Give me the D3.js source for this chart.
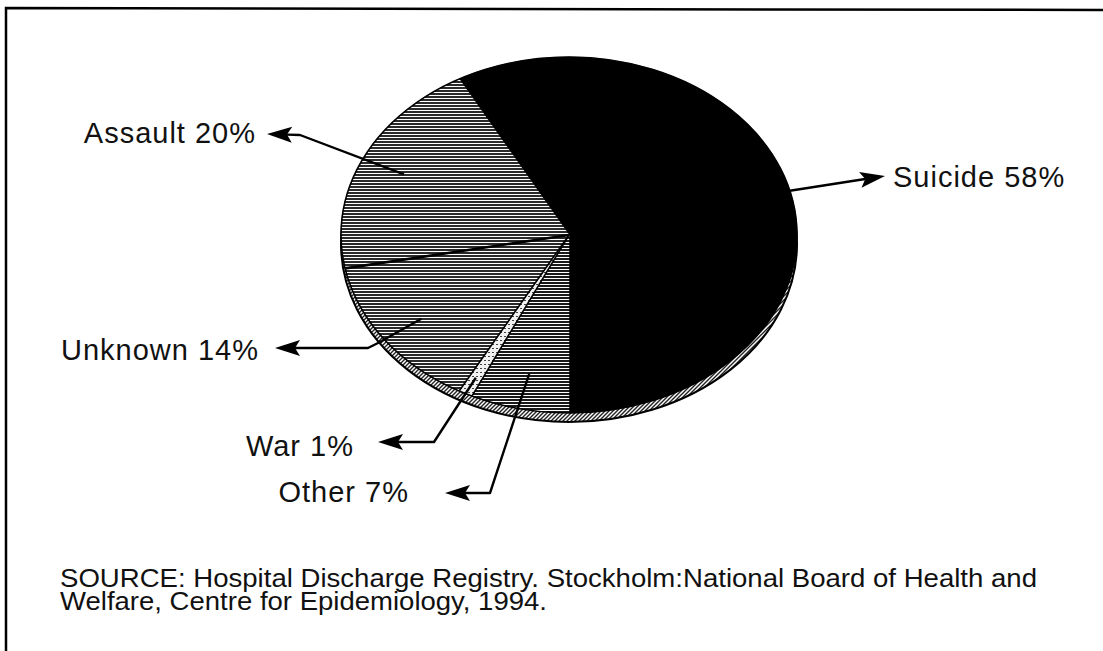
<!DOCTYPE html>
<html><head><meta charset="utf-8">
<script src="https://cdn.jsdelivr.net/npm/d3@7"></script>
<style>
html,body{margin:0;padding:0;background:#fff;}
svg{display:block;}
text{font-family:"Liberation Sans",Arial,Helvetica,sans-serif;fill:#111;}
</style></head>
<body>
<svg id="chart" width="1103" height="651"></svg>
<script>
// ---- data ----
const categories = ["Suicide", "Other", "War", "Unknown", "Assault"];
const values = [58, 7, 1, 14, 20];
const labels = ["Suicide 58%", "Other 7%", "War 1%", "Unknown 14%", "Assault 20%"];
const sourceLines = [
  "SOURCE: Hospital Discharge Registry. Stockholm:National Board of Health and",
  "Welfare, Centre for Epidemiology, 1994."
];

// ---- layout ----
const W = 1103, H = 651;
const cx = 569, cy = 235, rx = 228, ry = 178, depth = 9;
const svg = d3.select("#chart");
const defs = svg.append("defs");

function stripes(id, h, dark, col) {
  const p = defs.append("pattern").attr("id", id).attr("patternUnits", "userSpaceOnUse")
    .attr("width", 4).attr("height", h);
  p.append("rect").attr("width", 4).attr("height", h).attr("fill", "#fff");
  p.append("rect").attr("width", 4).attr("height", dark).attr("fill", col);
}
stripes("stripeA", 3, 2, "#2a2a2a");
stripes("stripeB", 3, 2, "#1a1a1a");

const pW = defs.append("pattern").attr("id", "warfill").attr("patternUnits", "userSpaceOnUse")
  .attr("width", 4).attr("height", 4);
pW.append("rect").attr("width", 4).attr("height", 4).attr("fill", "#f2f2f2");
pW.append("rect").attr("width", 2).attr("height", 1).attr("fill", "#444");

const pS = defs.append("pattern").attr("id", "side").attr("patternUnits", "userSpaceOnUse")
  .attr("width", 4).attr("height", 4);
pS.append("rect").attr("width", 4).attr("height", 4).attr("fill", "#fff");
pS.append("path").attr("d", "M0,4 L4,0 M-1,1 L1,-1 M3,5 L5,3").attr("stroke", "#222").attr("stroke-width", 1.4);

const fills = {Suicide: "#000", Other: "url(#stripeB)", War: "url(#warfill)", Unknown: "url(#stripeA)", Assault: "url(#stripeA)"};
// width of the radial edge at the start of each slice
const edgeW = {Suicide: 0, Other: 0, War: 1.6, Unknown: 1.6, Assault: 2.6};

// frame
svg.append("path").attr("d", `M6,${H} L6,8 L${W},10`).attr("fill", "none")
  .attr("stroke", "#000").attr("stroke-width", 2.5);

// pie angles
const start = -0.08 * 2 * Math.PI;
const pie = d3.pie().sort(null).value(d => d.v).startAngle(start).endAngle(start + 2 * Math.PI);
const arcs = pie(categories.map((c, i) => ({c, v: values[i], label: labels[i]})));

const pt = (a, f = 1, dy = 0) => [cx + rx * f * Math.sin(a), cy + dy - ry * f * Math.cos(a)];

// 3D side
const g = svg.append("g");
g.append("ellipse").attr("cx", cx).attr("cy", cy + depth).attr("rx", rx).attr("ry", ry)
  .attr("fill", "url(#side)").attr("stroke", "#000").attr("stroke-width", 2);

function wedge(d) {
  const p0 = pt(d.startAngle), p1 = pt(d.endAngle);
  const large = (d.endAngle - d.startAngle) > Math.PI ? 1 : 0;
  return `M${cx},${cy} L${p0[0]},${p0[1]} A${rx},${ry} 0 ${large} 1 ${p1[0]},${p1[1]} Z`;
}
g.selectAll("path.slice").data(arcs).join("path").attr("class", "slice")
  .attr("d", wedge)
  .attr("fill", d => fills[d.data.c])
  .attr("stroke", d => fills[d.data.c])
  .attr("stroke-width", 0.5);
g.selectAll("line.edge").data(arcs.filter(d => edgeW[d.data.c] > 0)).join("line").attr("class", "edge")
  .attr("x1", cx).attr("y1", cy)
  .attr("x2", d => pt(d.startAngle)[0]).attr("y2", d => pt(d.startAngle)[1])
  .attr("stroke", "#000").attr("stroke-width", d => edgeW[d.data.c]);
g.append("ellipse").attr("cx", cx).attr("cy", cy).attr("rx", rx).attr("ry", ry)
  .attr("fill", "none").attr("stroke", "#000").attr("stroke-width", 1.6);

// leader layout per category (anchor fraction, elbow points, tip, text pos)
const leaders = {
  Suicide: {f: 1.0, pts: [], tip: [885, 176], tx: 893, ty: 187, anchor: "start"},
  Assault: {f: 0.8, pts: [[300, 135]], tip: [267, 134], tx: 256, ty: 143, anchor: "end"},
  Unknown: {f: 0.8, pts: [[378, 343], [368, 348]], tip: [275, 348], tx: 259, ty: 360, anchor: "end"},
  War: {f: 0.9, pts: [[434, 442]], tip: [378, 442], tx: 354, ty: 456, anchor: "end"},
  Other: {f: 0.8, pts: [[490, 493]], tip: [445, 493], tx: 409, ty: 502, anchor: "end"}
};

const ann = svg.append("g");
arcs.forEach(d => {
  const L = leaders[d.data.c];
  const mid = (d.startAngle + d.endAngle) / 2;
  const a = pt(mid, L.f);
  const all = [a, ...L.pts, L.tip];
  const prev = all[all.length - 2];
  const dx = L.tip[0] - prev[0], dy = L.tip[1] - prev[1];
  const len = Math.hypot(dx, dy), ux = dx / len, uy = dy / len;
  const hl = 25, hw = 8, notch = 5;
  const base = [L.tip[0] - ux * hl, L.tip[1] - uy * hl];
  const lineEnd = [L.tip[0] - ux * (hl - notch), L.tip[1] - uy * (hl - notch)];
  const linePts = [...all.slice(0, -1), lineEnd];
  ann.append("path").attr("d", d3.line()(linePts)).attr("fill", "none")
    .attr("stroke", "#000").attr("stroke-width", 2.4).attr("stroke-linejoin", "round");
  const px = -uy, py = ux;
  const head = [L.tip, [base[0] + px * hw, base[1] + py * hw], lineEnd, [base[0] - px * hw, base[1] - py * hw]];
  ann.append("path").attr("d", d3.line()(head) + "Z").attr("fill", "#000");
  ann.append("text").attr("x", L.tx).attr("y", L.ty).attr("text-anchor", L.anchor)
    .attr("font-size", 29).attr("letter-spacing", 1).text(d.data.label);
});

// source note
svg.selectAll("text.src").data(sourceLines).join("text").attr("class", "src")
  .attr("x", 60).attr("y", (d, i) => 587 + i * 23)
  .attr("font-size", 25)
  .attr("textLength", (d, i) => i === 0 ? 977 : 487)
  .attr("lengthAdjust", "spacingAndGlyphs")
  .text(d => d);
</script>
</body></html>
